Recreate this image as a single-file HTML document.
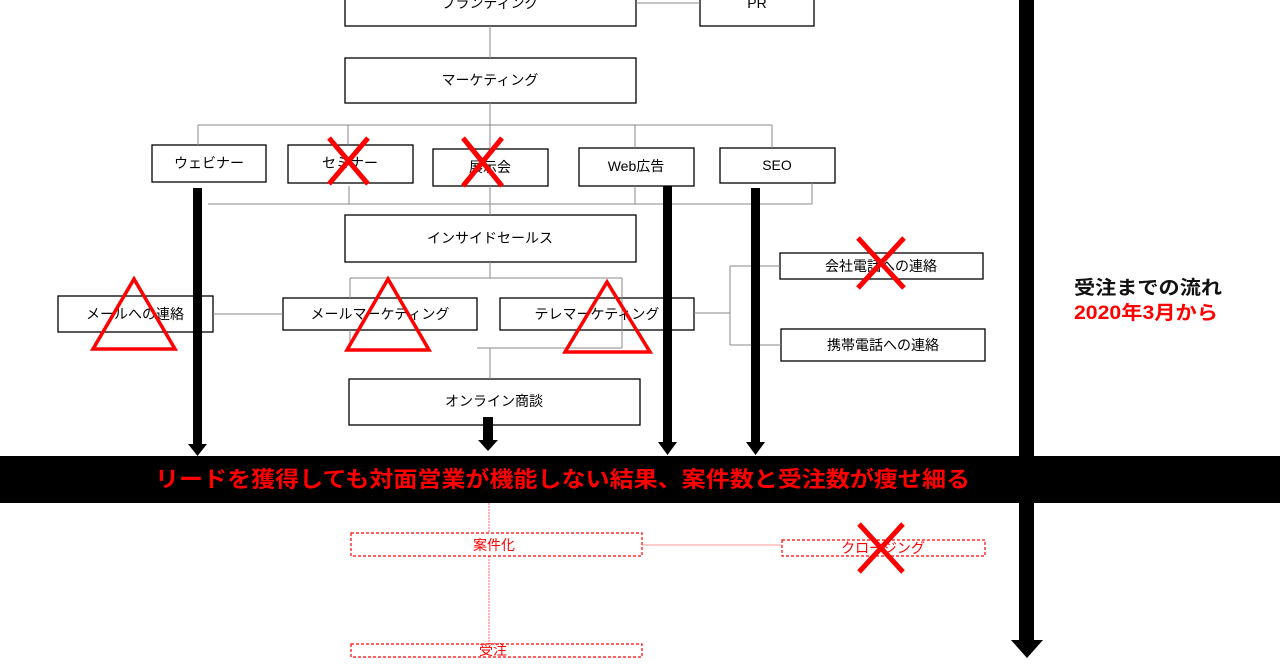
<!DOCTYPE html>
<html><head><meta charset="utf-8"><style>
html,body{margin:0;padding:0;background:#fff;}
svg{display:block;font-family:"Liberation Sans","Noto Sans CJK JP",sans-serif;}
</style></head><body>
<svg width="1280" height="670" viewBox="0 0 1280 670" xmlns="http://www.w3.org/2000/svg">
<g fill="#fff" stroke="#000" stroke-width="1.3">
<rect x="345" y="-20" width="291" height="46"/>
<rect x="700" y="-20" width="114" height="46"/>
<rect x="345" y="58" width="291" height="45"/>
<rect x="152" y="145" width="114" height="37"/>
<rect x="288" y="145" width="125" height="38"/>
<rect x="433" y="149" width="115" height="37"/>
<rect x="579" y="148" width="115" height="38"/>
<rect x="720" y="148" width="115" height="35"/>
<rect x="345" y="215" width="291" height="47"/>
<rect x="58" y="296" width="155" height="36"/>
<rect x="283" y="298" width="194" height="32"/>
<rect x="500" y="298" width="194" height="32"/>
<rect x="780" y="253" width="203" height="26"/>
<rect x="781" y="329" width="204" height="32"/>
<rect x="349" y="379" width="291" height="46"/>
</g>
<g stroke="#888" stroke-width="1" fill="none">
<path d="M636 3H700"/>
<path d="M490 26V58"/>
<path d="M490 103V125M198 125H772M198 125V145M348 125V145M490 125V149M635 125V148M772 125V148"/>
<path d="M208 204H812M349 186V204M490 186V215M635 186V204M812 183V204M665 186V204"/>
<path d="M490 262V278M350 278H622M350 278V298M622 278V348M477 348H622M350 330V348M490 348V379"/>
<path d="M213 314H283"/>
<path d="M694 313H730M730 266V345M730 266H780M730 345H781"/>
</g>
<g fill="#000" font-size="14" text-anchor="middle">
<text x="490" y="8">ブランディング</text>
<text x="757" y="8">PR</text>
<text x="490" y="85">マーケティング</text>
<text x="209" y="168">ウェビナー</text>
<text x="350" y="168">セミナー</text>
<text x="490" y="172">展示会</text>
<text x="636" y="171">Web広告</text>
<text x="777" y="170">SEO</text>
<text x="490" y="243">インサイドセールス</text>
<text x="135" y="319">メールへの連絡</text>
<text x="380" y="319">メールマーケティング</text>
<text x="597" y="319">テレマーケティング</text>
<text x="881" y="271">会社電話への連絡</text>
<text x="883" y="350">携帯電話への連絡</text>
<text x="494" y="406">オンライン商談</text>
</g>
<g fill="#000">
<rect x="193" y="188" width="9" height="258"/><polygon points="188,444 207,444 197.5,456"/>
<rect x="663" y="186" width="9" height="258"/><polygon points="658,442 677,442 667.5,455"/>
<rect x="751" y="188" width="9" height="256"/><polygon points="746,442 765,442 755.5,455"/>
<rect x="483" y="417" width="10" height="27"/><polygon points="478,440 498,440 488,451"/>
<rect x="0" y="456" width="1280" height="47"/>
<rect x="1019" y="0" width="15" height="642"/><polygon points="1011,640 1043,640 1027,658"/>
</g>
<text x="155" y="487" font-size="22" font-weight="bold" fill="#f00" textLength="815" lengthAdjust="spacingAndGlyphs">リードを獲得しても対面営業が機能しない結果、案件数と受注数が痩せ細る</text>
<text x="1074" y="294" font-size="19" font-weight="bold" fill="#111" textLength="148" lengthAdjust="spacingAndGlyphs">受注までの流れ</text>
<text x="1074" y="319" font-size="19" font-weight="bold" fill="#f00" textLength="144" lengthAdjust="spacingAndGlyphs">2020年3月から</text>
<g stroke="#f66" stroke-width="1" fill="none">
<path d="M489 503V533M489 556V643" stroke-dasharray="2 1"/>
<path d="M642 545H782" stroke="#f99"/>
</g>
<g stroke="#f00" stroke-width="1.2" fill="none" stroke-dasharray="3 2">
<rect x="351" y="533" width="291" height="23"/>
<rect x="782" y="540" width="203" height="16"/>
<rect x="351" y="644" width="291" height="13"/>
</g>
<g fill="#f00" font-size="14" text-anchor="middle">
<text x="494" y="550">案件化</text>
<text x="883" y="553">クロージング</text>
<text x="493" y="655">受注</text>
</g>
<g stroke="#f00" stroke-width="5" fill="none">
<path d="M329 138L368 184M368 138L329 184"/>
<path d="M463 138L502 186M502 138L463 186"/>
<path d="M858 238L904 288M904 238L858 288"/>
<path d="M859 524L903 572M903 524L859 572"/>
<polygon points="134,279 93,349 175,349" stroke-width="3.5"/>
<polygon points="388,279 347,350 429,350" stroke-width="3.5"/>
<polygon points="607,282 565,352 650,352" stroke-width="3.5"/>
</g>
</svg>
</body></html>
